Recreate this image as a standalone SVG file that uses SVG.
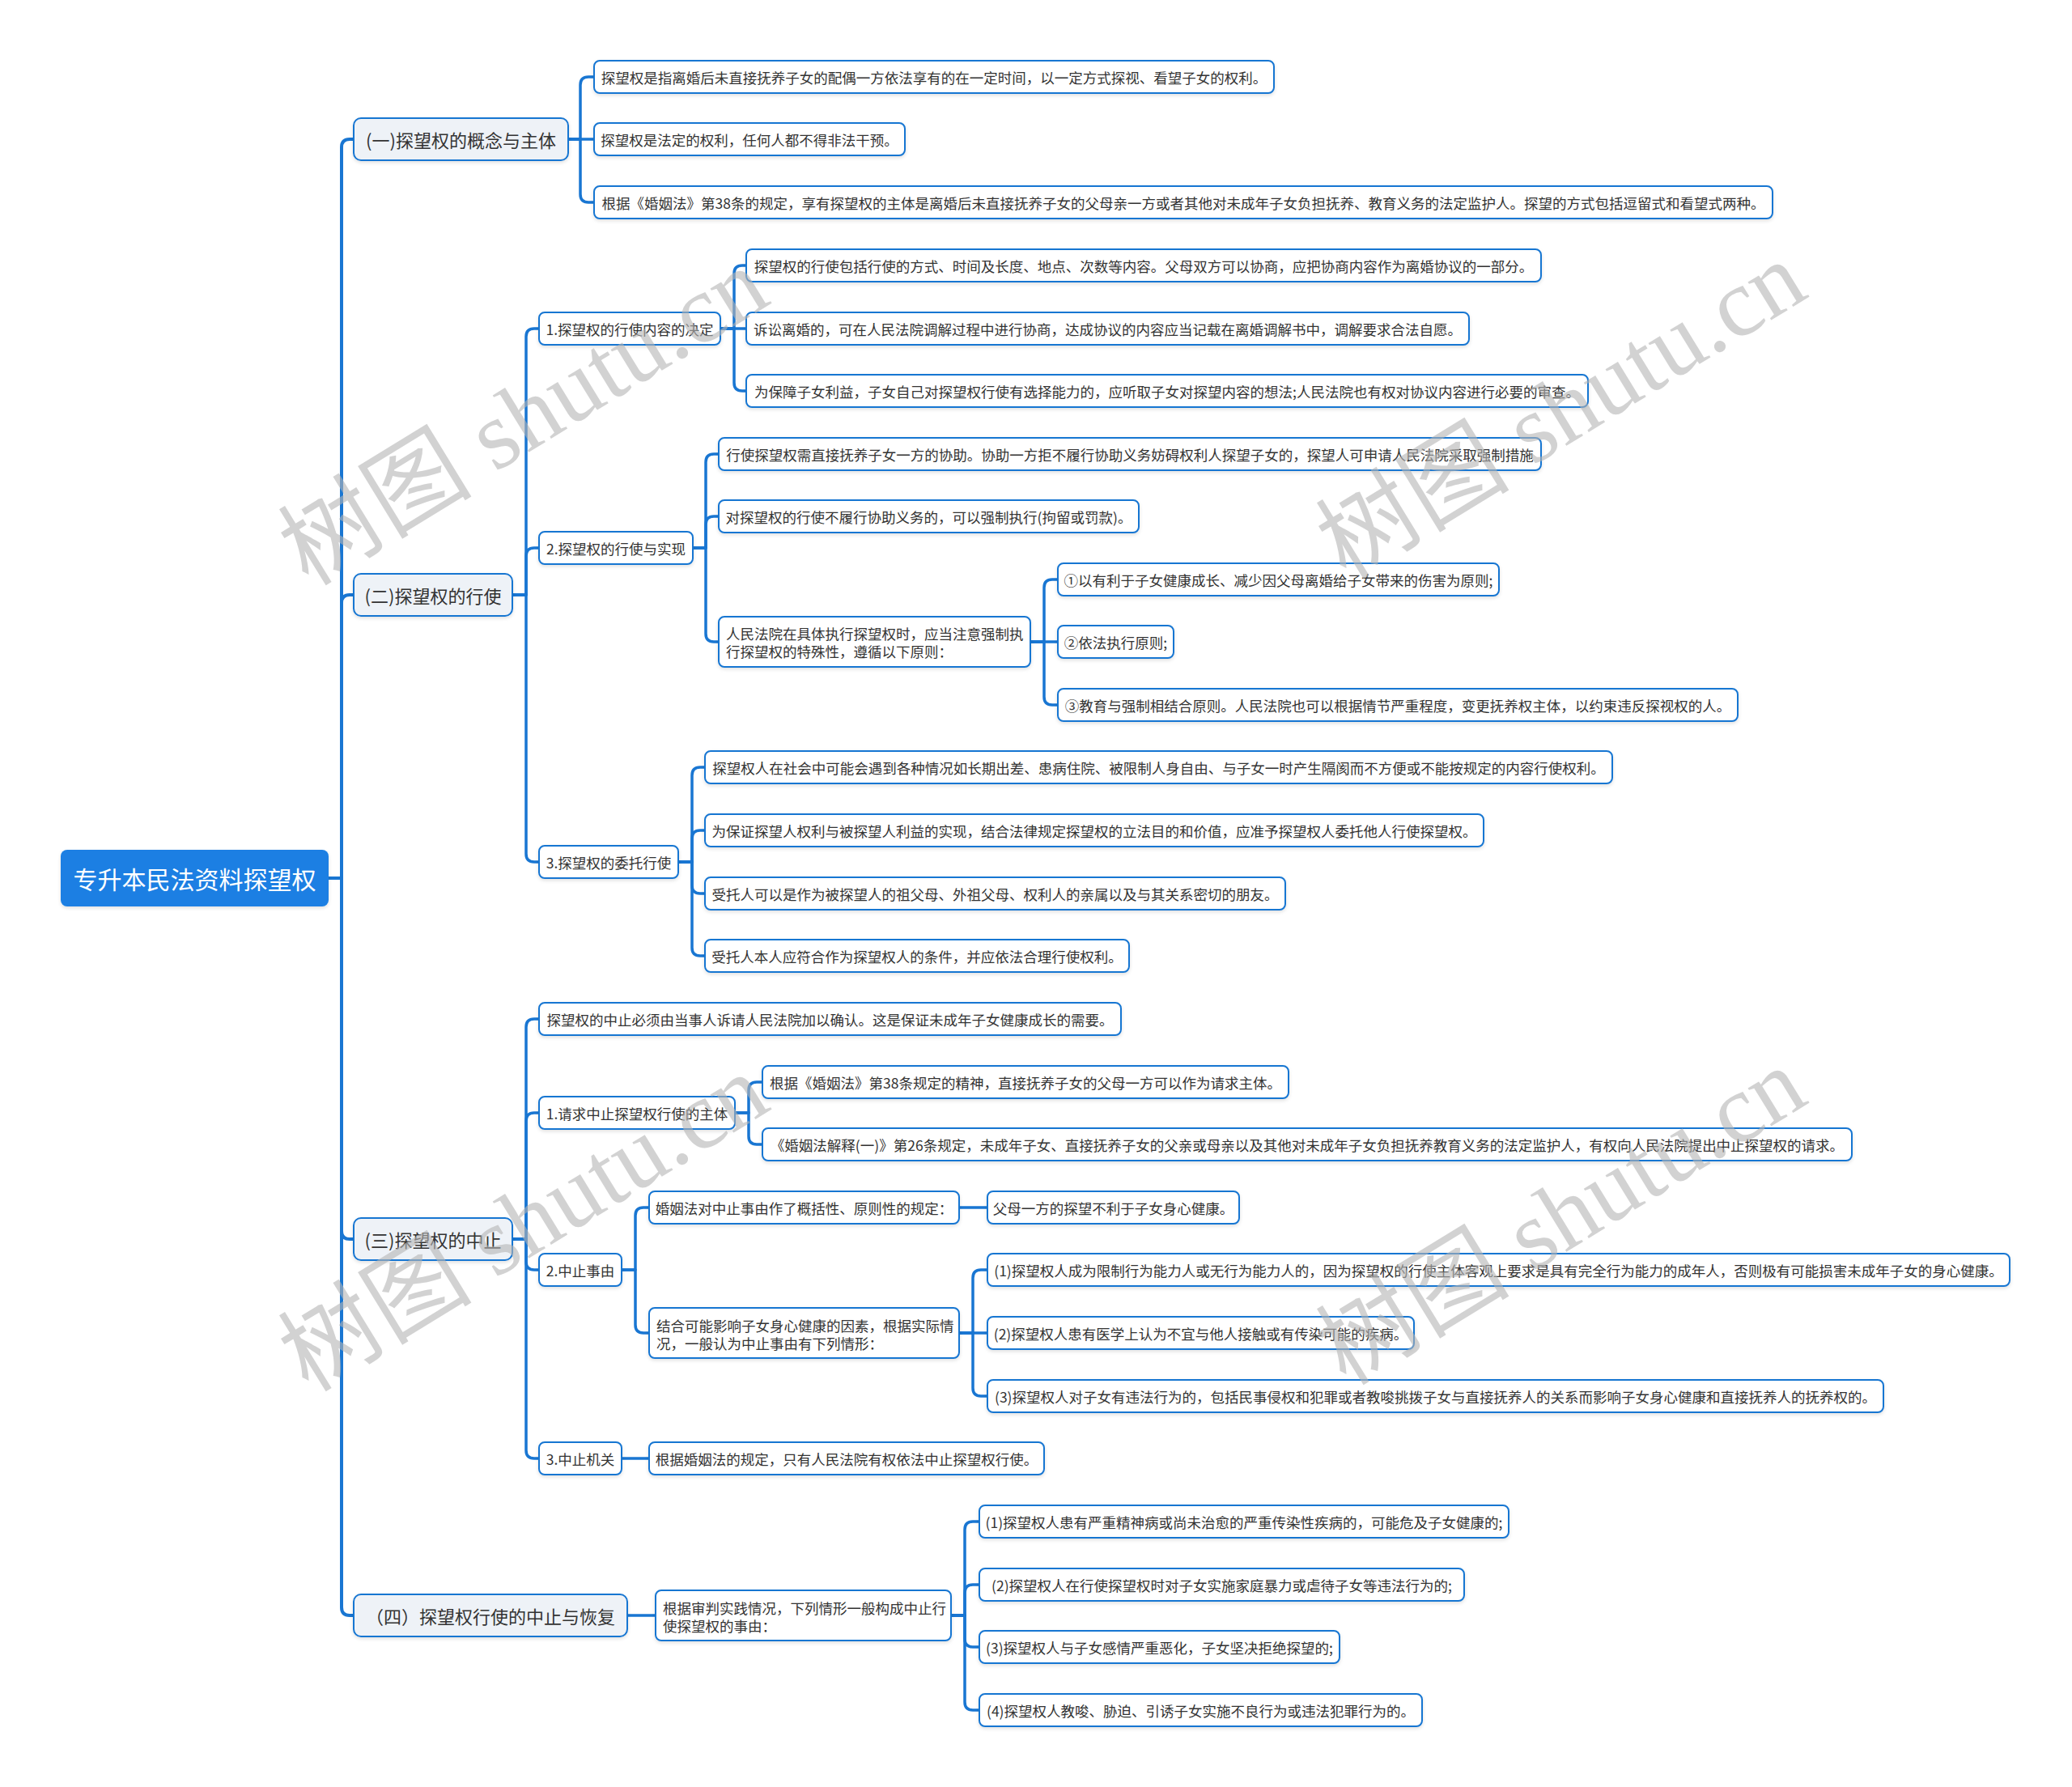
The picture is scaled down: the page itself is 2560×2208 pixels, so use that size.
<svg xmlns="http://www.w3.org/2000/svg" width="2560" height="2208" viewBox="0 0 2560 2208">
<defs>
<filter id="sh" x="-5%" y="-20%" width="110%" height="150%"><feDropShadow dx="0" dy="2" stdDeviation="2" flood-color="#000" flood-opacity="0.12"/></filter>
</defs>
<style>
text{font-family:"Noto Sans CJK SC","Noto Sans",sans-serif;fill:#333;dominant-baseline:central}
.c{text-anchor:middle}
.lf{font-size:17.5px}
.n rect{fill:#fff;stroke:#1976d2;stroke-width:2;filter:url(#sh)}
.l1 rect{fill:#eef2f7;stroke:#1976d2;stroke-width:2;filter:url(#sh)}
.l1 text{font-size:22px}
.rt rect{fill:#1a7fe3;filter:url(#sh)}
.rt text{font-size:30px;fill:#fff}
.ln path{fill:none;stroke:#1976d2;stroke-width:3.5;stroke-linejoin:round}
.ln .t{stroke-width:4}
.wm{font-family:"Liberation Serif","Noto Sans CJK SC",serif;font-size:120px;fill:#b4b4b4;fill-opacity:0.6;text-anchor:middle;dominant-baseline:central}
</style>
<rect width="2560" height="2208" fill="#fff"/>
<g id="connectors" class="ln">
<path class="t" d="M406,1085 H422 V182 Q422,172 432,172 H437"/>
<path class="t" d="M406,1085 H422 V745 Q422,735 432,735 H437"/>
<path class="t" d="M406,1085 H422 V1521 Q422,1531 432,1531 H437"/>
<path class="t" d="M406,1085 H422 V1986 Q422,1996 432,1996 H437"/>
<path d="M702,172 H717 V105 Q717,95 727,95 H734"/>
<path d="M702,172 H734"/>
<path d="M702,172 H717 V240 Q717,250 727,250 H734"/>
<path d="M633,735 H650 V416 Q650,406 660,406 H666"/>
<path d="M633,735 H650 V687 Q650,677 660,677 H666"/>
<path d="M633,735 H650 V1055 Q650,1065 660,1065 H666"/>
<path d="M890,406 H907 V338 Q907,328 917,328 H922"/>
<path d="M890,406 H922"/>
<path d="M890,406 H907 V473 Q907,483 917,483 H922"/>
<path d="M856,677 H872 V571 Q872,561 882,561 H888"/>
<path d="M856,677 H872 V648 Q872,638 882,638 H888"/>
<path d="M856,677 H872 V783 Q872,793 882,793 H888"/>
<path d="M1273,793 H1290 V726 Q1290,716 1300,716 H1307"/>
<path d="M1273,793 H1307"/>
<path d="M1273,793 H1290 V861 Q1290,871 1300,871 H1307"/>
<path d="M838,1065 H855 V958 Q855,948 865,948 H871"/>
<path d="M838,1065 H855 V1036 Q855,1026 865,1026 H871"/>
<path d="M838,1065 H855 V1094 Q855,1104 865,1104 H871"/>
<path d="M838,1065 H855 V1171 Q855,1181 865,1181 H871"/>
<path d="M633,1531 H650 V1269 Q650,1259 660,1259 H666"/>
<path d="M633,1531 H650 V1385 Q650,1375 660,1375 H666"/>
<path d="M633,1531 H650 V1559 Q650,1569 660,1569 H666"/>
<path d="M633,1531 H650 V1792 Q650,1802 660,1802 H666"/>
<path d="M908,1375 H925 V1347 Q925,1337 935,1337 H942"/>
<path d="M908,1375 H925 V1404 Q925,1414 935,1414 H942"/>
<path d="M768,1569 H785 V1502 Q785,1492 795,1492 H802"/>
<path d="M768,1569 H785 V1637 Q785,1647 795,1647 H802"/>
<path d="M1185,1492 H1220"/>
<path d="M1185,1647 H1202 V1579 Q1202,1569 1212,1569 H1220"/>
<path d="M1185,1647 H1220"/>
<path d="M1185,1647 H1202 V1715 Q1202,1725 1212,1725 H1220"/>
<path d="M768,1802 H802"/>
<path d="M775,1996 H810"/>
<path d="M1175,1996 H1192 V1890 Q1192,1880 1202,1880 H1210"/>
<path d="M1175,1996 H1192 V1968 Q1192,1958 1202,1958 H1210"/>
<path d="M1175,1996 H1192 V2025 Q1192,2035 1202,2035 H1210"/>
<path d="M1175,1996 H1192 V2103 Q1192,2113 1202,2113 H1210"/>
</g>
<g id="root" class="rt"><rect x="75" y="1050" width="331" height="70" rx="8"/><text class="c" x="240.5" y="1085">专升本民法资料探望权</text></g>
<g id="l1-1" class="l1"><rect x="437" y="146" width="265" height="52" rx="9"/><text class="c" x="569.5" y="172">(一)探望权的概念与主体</text></g>
<g id="l1-2" class="l1"><rect x="437" y="709" width="196" height="52" rx="9"/><text class="c" x="535" y="735">(二)探望权的行使</text></g>
<g id="l1-3" class="l1"><rect x="437" y="1505" width="196" height="52" rx="9"/><text class="c" x="535" y="1531">(三)探望权的中止</text></g>
<g id="l1-4" class="l1"><rect x="437" y="1970" width="338" height="52" rx="9"/><text class="c" x="606" y="1996">（四）探望权行使的中止与恢复</text></g>
<g id="a1" class="n"><rect x="734" y="75" width="840" height="40" rx="7"/><text class="c lf" x="1154" y="95">探望权是指离婚后未直接抚养子女的配偶一方依法享有的在一定时间，以一定方式探视、看望子女的权利。</text></g>
<g id="a2" class="n"><rect x="734" y="152" width="384" height="40" rx="7"/><text class="c lf" x="926" y="172">探望权是法定的权利，任何人都不得非法干预。</text></g>
<g id="a3" class="n"><rect x="734" y="230" width="1456" height="40" rx="7"/><text class="c lf" x="1462" y="250">根据《婚姻法》第38条的规定，享有探望权的主体是离婚后未直接抚养子女的父母亲一方或者其他对未成年子女负担抚养、教育义务的法定监护人。探望的方式包括逗留式和看望式两种。</text></g>
<g id="b1" class="n"><rect x="666" y="386" width="224" height="40" rx="7"/><text class="c lf" x="778" y="406">1.探望权的行使内容的决定</text></g>
<g id="b1a" class="n"><rect x="922" y="308" width="982" height="40" rx="7"/><text class="c lf" x="1413" y="328">探望权的行使包括行使的方式、时间及长度、地点、次数等内容。父母双方可以协商，应把协商内容作为离婚协议的一部分。</text></g>
<g id="b1b" class="n"><rect x="922" y="386" width="893" height="40" rx="7"/><text class="c lf" x="1368.5" y="406">诉讼离婚的，可在人民法院调解过程中进行协商，达成协议的内容应当记载在离婚调解书中，调解要求合法自愿。</text></g>
<g id="b1c" class="n"><rect x="922" y="463" width="1040" height="40" rx="7"/><text class="c lf" x="1442" y="483">为保障子女利益，子女自己对探望权行使有选择能力的，应听取子女对探望内容的想法;人民法院也有权对协议内容进行必要的审查。</text></g>
<g id="b2" class="n"><rect x="666" y="657" width="190" height="40" rx="7"/><text class="c lf" x="761" y="677">2.探望权的行使与实现</text></g>
<g id="b2a" class="n"><rect x="888" y="541" width="1016" height="40" rx="7"/><text class="c lf" x="1396" y="561">行使探望权需直接抚养子女一方的协助。协助一方拒不履行协助义务妨碍权利人探望子女的，探望人可申请人民法院采取强制措施</text></g>
<g id="b2b" class="n"><rect x="888" y="618" width="519" height="40" rx="7"/><text class="c lf" x="1147.5" y="638">对探望权的行使不履行协助义务的，可以强制执行(拘留或罚款)。</text></g>
<g id="b2c" class="n"><rect x="888" y="762" width="385" height="62" rx="7"/><text class="lf" x="897" y="782">人民法院在具体执行探望权时，应当注意强制执</text><text class="lf" x="897" y="804">行探望权的特殊性，遵循以下原则：</text></g>
<g id="b2c1" class="n"><rect x="1307" y="696" width="545" height="40" rx="7"/><text class="c lf" x="1579.5" y="716">①以有利于子女健康成长、减少因父母离婚给子女带来的伤害为原则;</text></g>
<g id="b2c2" class="n"><rect x="1307" y="773" width="143" height="40" rx="7"/><text class="c lf" x="1378.5" y="793">②依法执行原则;</text></g>
<g id="b2c3" class="n"><rect x="1307" y="851" width="840" height="40" rx="7"/><text class="c lf" x="1727" y="871">③教育与强制相结合原则。人民法院也可以根据情节严重程度，变更抚养权主体，以约束违反探视权的人。</text></g>
<g id="b3" class="n"><rect x="666" y="1045" width="172" height="40" rx="7"/><text class="c lf" x="752" y="1065">3.探望权的委托行使</text></g>
<g id="b3a" class="n"><rect x="871" y="928" width="1121" height="40" rx="7"/><text class="c lf" x="1431.5" y="948">探望权人在社会中可能会遇到各种情况如长期出差、患病住院、被限制人身自由、与子女一时产生隔阂而不方便或不能按规定的内容行使权利。</text></g>
<g id="b3b" class="n"><rect x="871" y="1006" width="962" height="40" rx="7"/><text class="c lf" x="1352" y="1026">为保证探望人权利与被探望人利益的实现，结合法律规定探望权的立法目的和价值，应准予探望权人委托他人行使探望权。</text></g>
<g id="b3c" class="n"><rect x="871" y="1084" width="717" height="40" rx="7"/><text class="c lf" x="1229.5" y="1104">受托人可以是作为被探望人的祖父母、外祖父母、权利人的亲属以及与其关系密切的朋友。</text></g>
<g id="b3d" class="n"><rect x="871" y="1161" width="524" height="40" rx="7"/><text class="c lf" x="1133" y="1181">受托人本人应符合作为探望权人的条件，并应依法合理行使权利。</text></g>
<g id="c1" class="n"><rect x="666" y="1239" width="719" height="40" rx="7"/><text class="c lf" x="1025.5" y="1259">探望权的中止必须由当事人诉请人民法院加以确认。这是保证未成年子女健康成长的需要。</text></g>
<g id="c2" class="n"><rect x="666" y="1355" width="242" height="40" rx="7"/><text class="c lf" x="787" y="1375">1.请求中止探望权行使的主体</text></g>
<g id="c2a" class="n"><rect x="942" y="1317" width="650" height="40" rx="7"/><text class="c lf" x="1267" y="1337">根据《婚姻法》第38条规定的精神，直接抚养子女的父母一方可以作为请求主体。</text></g>
<g id="c2b" class="n"><rect x="942" y="1394" width="1346" height="40" rx="7"/><text class="c lf" x="1615" y="1414">《婚姻法解释(一)》第26条规定，未成年子女、直接抚养子女的父亲或母亲以及其他对未成年子女负担抚养教育义务的法定监护人，有权向人民法院提出中止探望权的请求。</text></g>
<g id="c3" class="n"><rect x="666" y="1549" width="102" height="40" rx="7"/><text class="c lf" x="717" y="1569">2.中止事由</text></g>
<g id="c3a" class="n"><rect x="802" y="1472" width="383" height="40" rx="7"/><text class="c lf" x="993.5" y="1492">婚姻法对中止事由作了概括性、原则性的规定：</text></g>
<g id="c3a1" class="n"><rect x="1220" y="1472" width="311" height="40" rx="7"/><text class="c lf" x="1375.5" y="1492">父母一方的探望不利于子女身心健康。</text></g>
<g id="c3b" class="n"><rect x="802" y="1616" width="383" height="62" rx="7"/><text class="lf" x="811" y="1637">结合可能影响子女身心健康的因素，根据实际情</text><text class="lf" x="811" y="1659">况，一般认为中止事由有下列情形：</text></g>
<g id="c3b1" class="n"><rect x="1220" y="1549" width="1263" height="40" rx="7"/><text class="c lf" x="1851.5" y="1569">(1)探望权人成为限制行为能力人或无行为能力人的，因为探望权的行使主体客观上要求是具有完全行为能力的成年人，否则极有可能损害未成年子女的身心健康。</text></g>
<g id="c3b2" class="n"><rect x="1220" y="1627" width="527" height="40" rx="7"/><text class="c lf" x="1483.5" y="1647">(2)探望权人患有医学上认为不宜与他人接触或有传染可能的疾病。</text></g>
<g id="c3b3" class="n"><rect x="1220" y="1705" width="1107" height="40" rx="7"/><text class="c lf" x="1773.5" y="1725">(3)探望权人对子女有违法行为的，包括民事侵权和犯罪或者教唆挑拨子女与直接抚养人的关系而影响子女身心健康和直接抚养人的抚养权的。</text></g>
<g id="c4" class="n"><rect x="666" y="1782" width="102" height="40" rx="7"/><text class="c lf" x="717" y="1802">3.中止机关</text></g>
<g id="c4a" class="n"><rect x="802" y="1782" width="488" height="40" rx="7"/><text class="c lf" x="1046" y="1802">根据婚姻法的规定，只有人民法院有权依法中止探望权行使。</text></g>
<g id="d1" class="n"><rect x="810" y="1965" width="365" height="62" rx="7"/><text class="lf" x="819" y="1986">根据审判实践情况，下列情形一般构成中止行</text><text class="lf" x="819" y="2008">使探望权的事由：</text></g>
<g id="d1a" class="n"><rect x="1210" y="1860" width="654" height="40" rx="7"/><text class="c lf" x="1537" y="1880">(1)探望权人患有严重精神病或尚未治愈的严重传染性疾病的，可能危及子女健康的;</text></g>
<g id="d1b" class="n"><rect x="1210" y="1938" width="599" height="40" rx="7"/><text class="c lf" x="1509.5" y="1958">(2)探望权人在行使探望权时对子女实施家庭暴力或虐待子女等违法行为的;</text></g>
<g id="d1c" class="n"><rect x="1210" y="2015" width="445" height="40" rx="7"/><text class="c lf" x="1432.5" y="2035">(3)探望权人与子女感情严重恶化，子女坚决拒绝探望的;</text></g>
<g id="d1d" class="n"><rect x="1210" y="2093" width="547" height="40" rx="7"/><text class="c lf" x="1483.5" y="2113">(4)探望权人教唆、胁迫、引诱子女实施不良行为或违法犯罪行为的。</text></g>
<g id="watermarks">
<text class="wm" transform="translate(647,515) rotate(-31.5)">树图 shutu.cn</text>
<text class="wm" transform="translate(1929,507) rotate(-31.5)">树图 shutu.cn</text>
<text class="wm" transform="translate(647,1511) rotate(-31.5)">树图 shutu.cn</text>
<text class="wm" transform="translate(1929,1503) rotate(-31.5)">树图 shutu.cn</text>
</g>
</svg>
